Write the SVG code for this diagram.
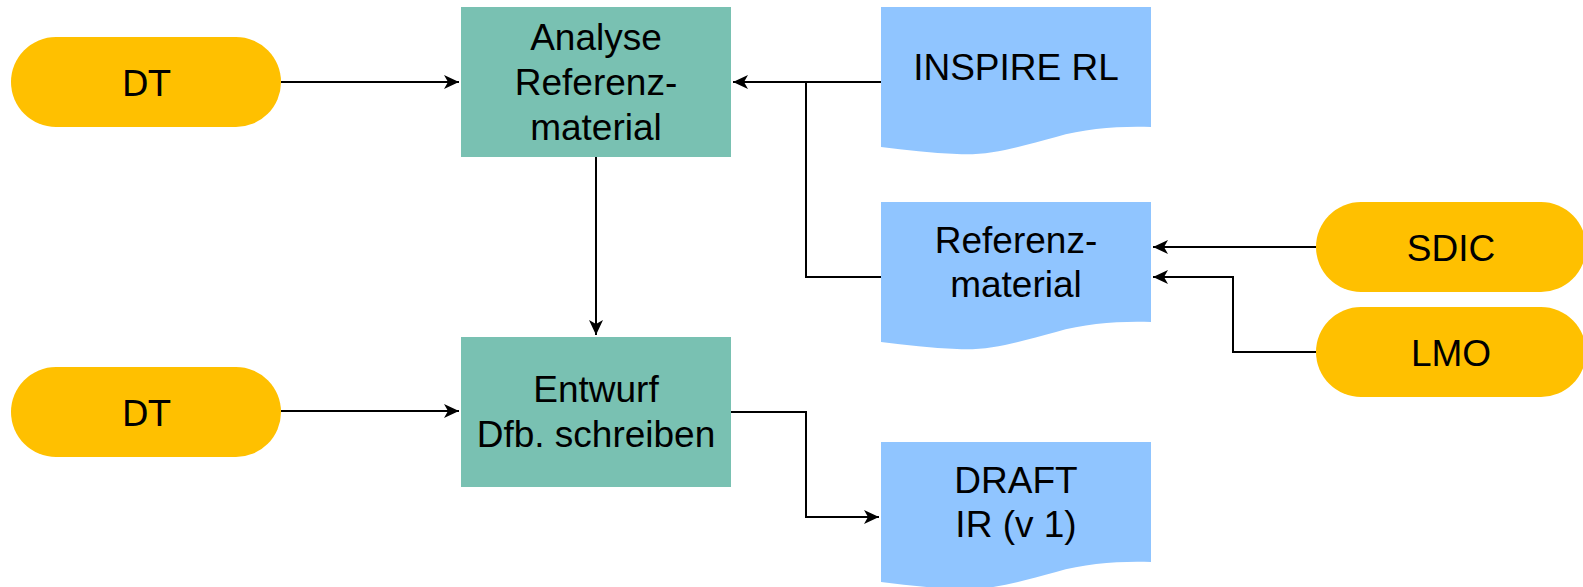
<svg xmlns="http://www.w3.org/2000/svg" width="1583" height="587" viewBox="0 0 1583 587">
<style>
.pill{fill:#FFC000}
.proc{fill:#79C1B2}
.doc{fill:#90C5FF}
.t{font-family:"Liberation Sans",Arial,sans-serif;font-size:37px;fill:#000;text-anchor:middle}
.td{font-family:"DejaVu Sans",sans-serif;font-size:35px;fill:#000;text-anchor:middle}
.c{fill:none;stroke:#000;stroke-width:2}
</style>
<defs>
<marker id="ah" viewBox="0 0 16 16" refX="15" refY="8" markerWidth="16" markerHeight="16" markerUnits="userSpaceOnUse" orient="auto">
<path d="M0,1 L15,8 L0,15 L4,8 Z" fill="#000"/>
</marker>
<path id="docshape" d="M0,0 H270 V120 C240,119 205,121 175,130 C140,139 110,149 76,147 C50,146 25,143 0,140 Z"/>
</defs>
<rect width="1583" height="587" fill="#fff"/>
<g id="connectors">
<path class="c" d="M281,82 H459" marker-end="url(#ah)"/>
<path class="c" d="M281,411 H459" marker-end="url(#ah)"/>
<path class="c" d="M596,157 V335" marker-end="url(#ah)"/>
<path class="c" d="M881,82 H733" marker-end="url(#ah)"/>
<path class="c" d="M881,277 H806 V82"/>
<path class="c" d="M731,412 H806 V517 H879" marker-end="url(#ah)"/>
<path class="c" d="M1316,247 H1153" marker-end="url(#ah)"/>
<path class="c" d="M1316,352 H1233 V277 H1153" marker-end="url(#ah)"/>
</g>
<g id="dt1"><rect class="pill" x="11" y="37" width="270" height="90" rx="45"/><text class="td" x="146" y="96">DT</text></g>
<g id="dt2"><rect class="pill" x="11" y="367" width="270" height="90" rx="45"/><text class="td" x="146" y="426">DT</text></g>
<g id="analyse"><rect class="proc" x="461" y="7" width="270" height="150"/>
<text class="t" x="596" y="50">Analyse</text><text class="t" x="596" y="95">Referenz-</text><text class="t" x="596" y="140">material</text></g>
<g id="entwurf"><rect class="proc" x="461" y="337" width="270" height="150"/>
<text class="t" x="596" y="402">Entwurf</text><text class="t" x="596" y="447">Dfb. schreiben</text></g>
<g id="inspire"><use href="#docshape" class="doc" x="881" y="7"/><text class="t" x="1016" y="80">INSPIRE RL</text></g>
<g id="refmat"><use href="#docshape" class="doc" x="881" y="202"/><text class="t" x="1016" y="253">Referenz-</text><text class="t" x="1016" y="297">material</text></g>
<g id="draft"><use href="#docshape" class="doc" x="881" y="442"/><text class="t" x="1016" y="493">DRAFT</text><text class="t" x="1016" y="537">IR (v 1)</text></g>
<g id="sdic"><rect class="pill" x="1316" y="202" width="270" height="90" rx="45"/><text class="t" x="1451" y="261">SDIC</text></g>
<g id="lmo"><rect class="pill" x="1316" y="307" width="270" height="90" rx="45"/><text class="t" x="1451" y="366">LMO</text></g>
</svg>
